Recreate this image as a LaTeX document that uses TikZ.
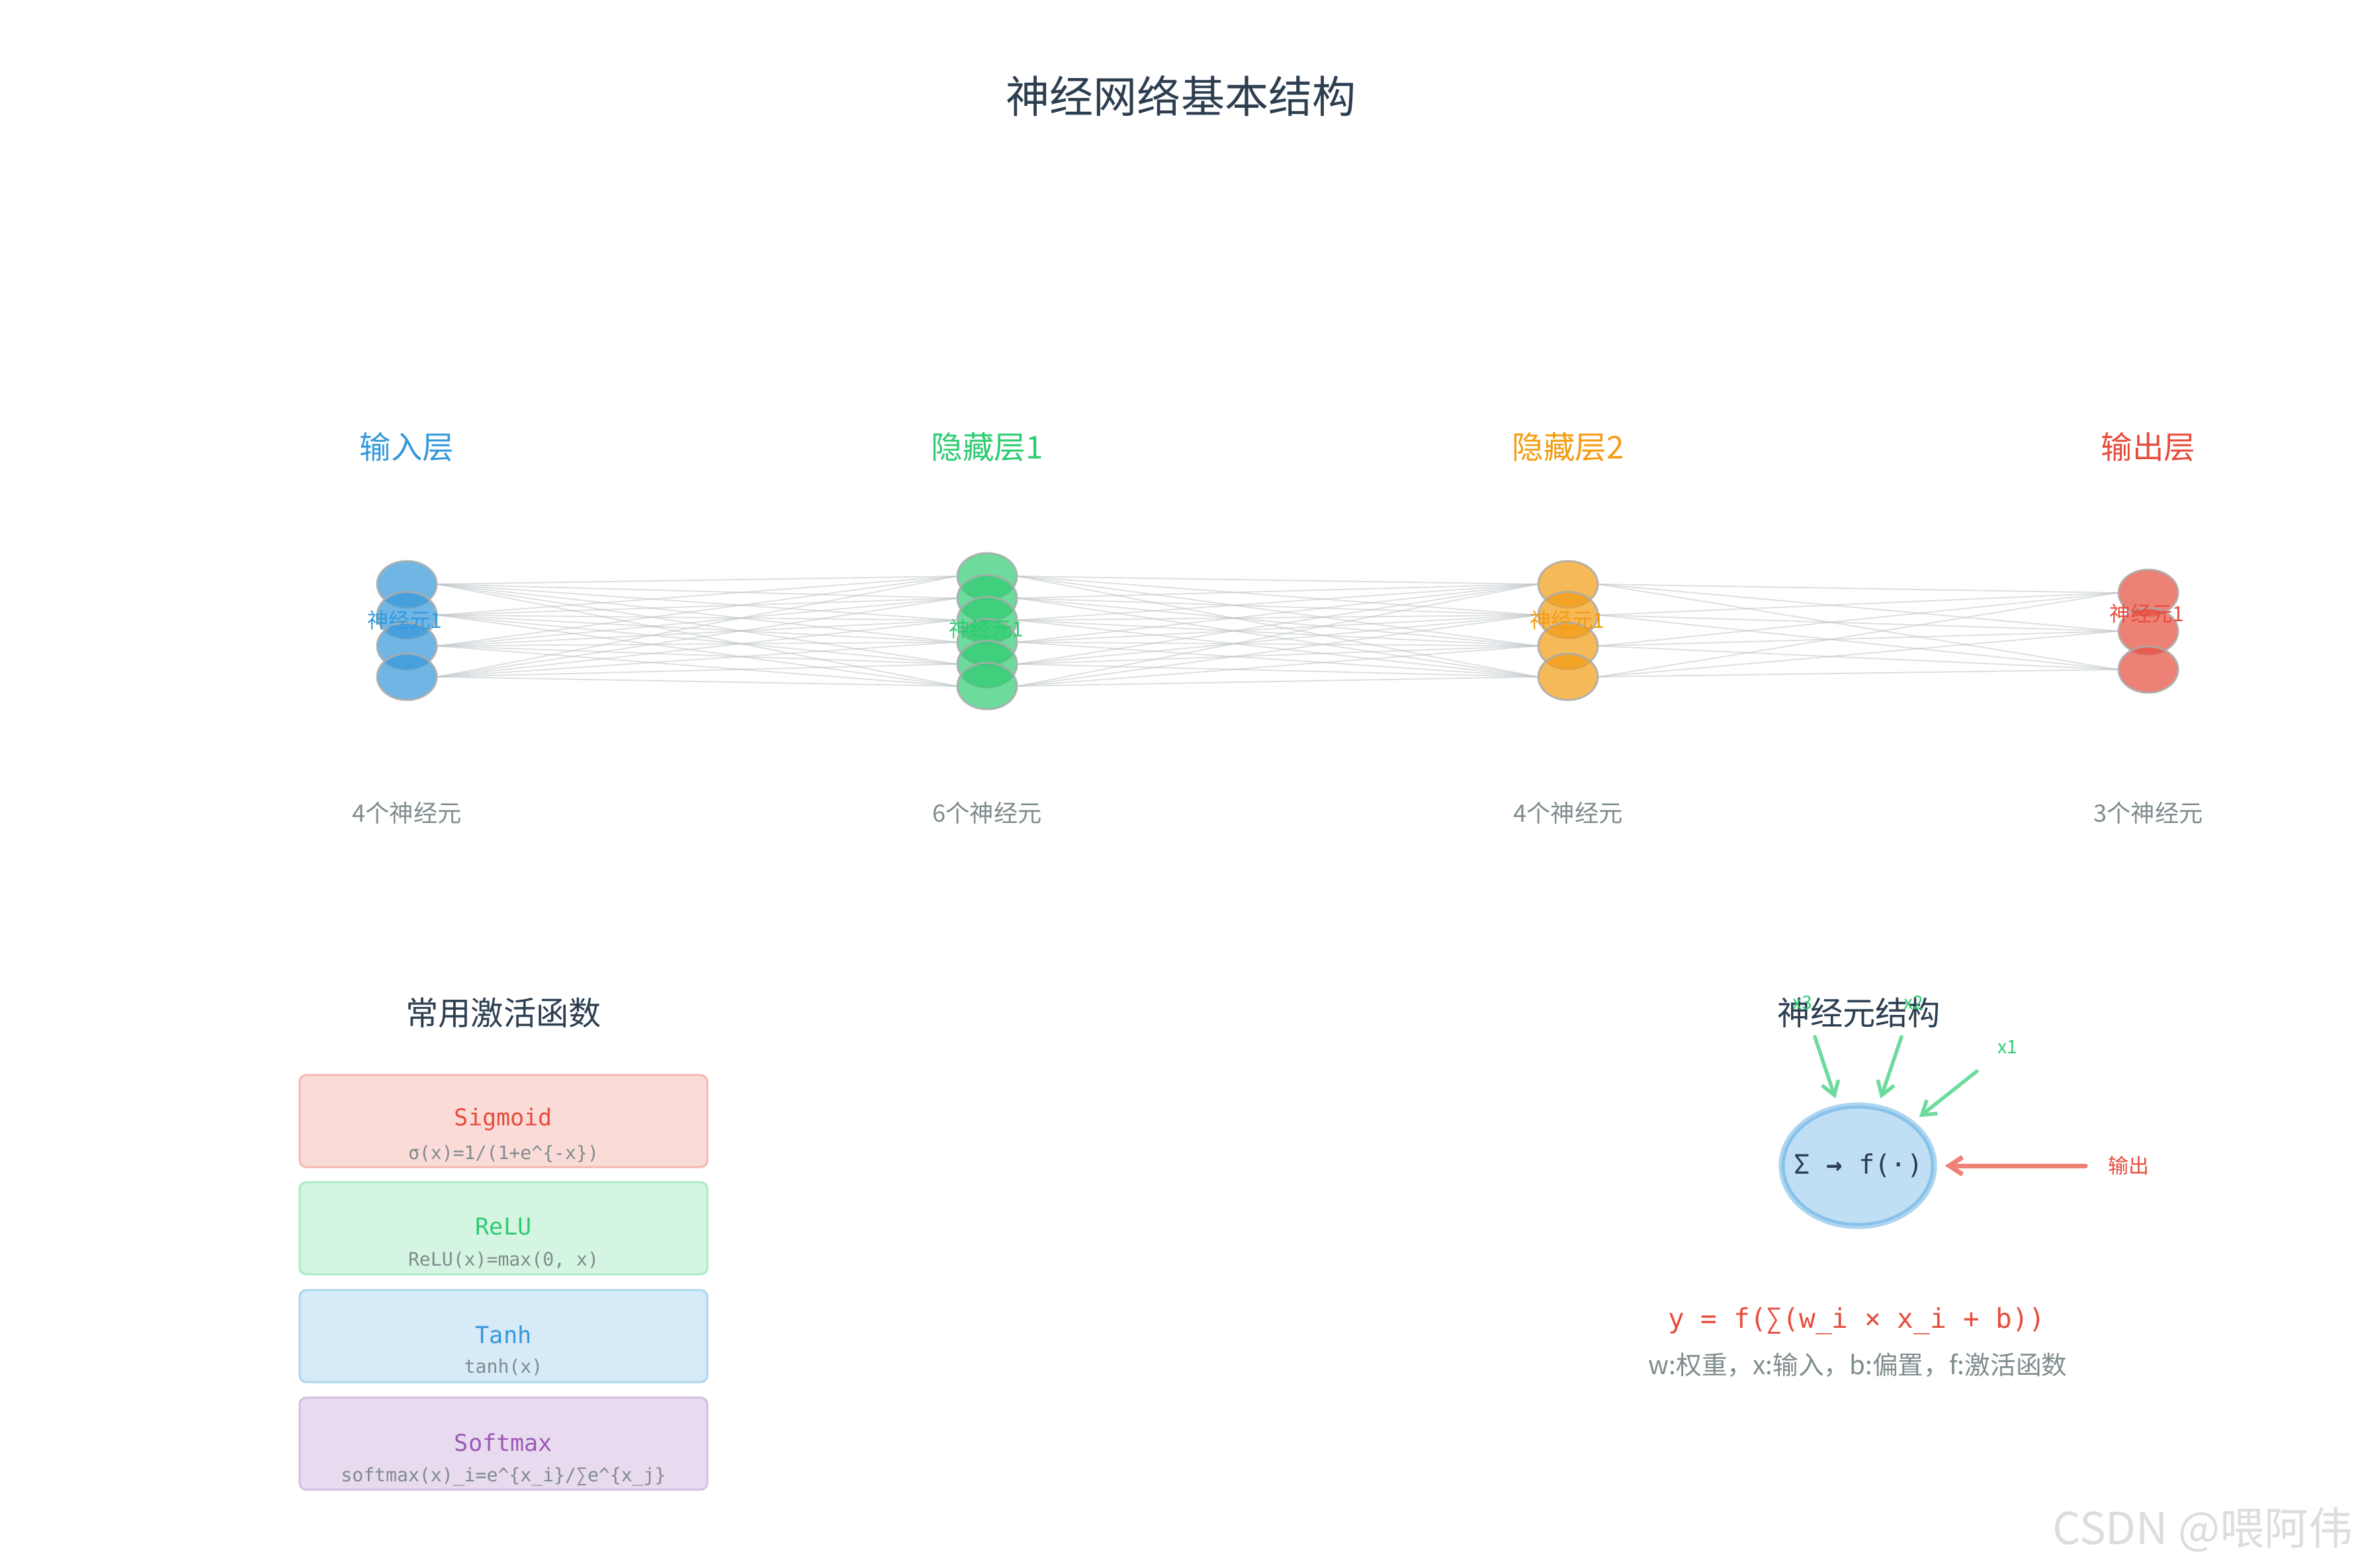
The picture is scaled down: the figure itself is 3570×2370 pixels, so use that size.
\documentclass[tikz,border=0pt]{standalone}
\usepackage{fontspec}
\setmainfont{Noto Sans CJK SC}
\newfontfamily\monof{DejaVu Sans Mono}
\usetikzlibrary{shapes.geometric,arrows.meta,backgrounds}
\definecolor{cdark}{HTML}{2C3E50}
\definecolor{cblue}{HTML}{3498DB}
\definecolor{cgreen}{HTML}{2ECC71}
\definecolor{corange}{HTML}{F39C12}
\definecolor{cred}{HTML}{E74C3C}
\definecolor{cpurple}{HTML}{9B59B6}
\definecolor{cgray}{HTML}{7F8C8D}
\definecolor{cline}{HTML}{BDC3C7}
\definecolor{cedge}{HTML}{ABABAB}
\definecolor{garrow}{HTML}{6DDB9C}
\definecolor{rarrow}{HTML}{EE8276}
\definecolor{wmark}{HTML}{DDDDDD}
\definecolor{sigfill}{HTML}{FADBD8}\definecolor{sigedge}{HTML}{F5B7B1}
\definecolor{relfill}{HTML}{D5F5E3}\definecolor{reledge}{HTML}{ABEBC6}
\definecolor{tanfill}{HTML}{D6EAF8}\definecolor{tanedge}{HTML}{AED6F1}
\definecolor{smxfill}{HTML}{E8DAEF}\definecolor{smxedge}{HTML}{D7BDE2}
\tikzset{
  txt/.style={inner sep=0pt, outer sep=0pt},
  neuron/.style={ellipse, minimum width=0.9cm, minimum height=0.7cm, inner sep=0pt,
    draw=cedge, line width=0.85pt, fill opacity=0.7, draw opacity=0.85},
  conn/.style={draw=cline, line width=0.55pt, draw opacity=0.5},
  funcbox/.style={rounded corners=0.1cm, line width=0.85pt, minimum width=6.16cm,
    minimum height=1.39cm, inner sep=0pt},
  inarrow/.style={draw=garrow, line width=1.55pt, line cap=round,
    -{Straight Barb[length=0.2cm,width=0.26cm]}, shorten >=0.1cm},
  outarrow/.style={draw=rarrow, line width=2pt, line cap=round,
    -{Straight Barb[length=0.2cm,width=0.26cm]}, shorten >=0.12cm},
}
\begin{document}
\begin{tikzpicture}[x=0.01cm, y=-0.01cm]
\useasboundingbox (0,0) rectangle (3570,2370);

% title
\node[txt, text=cdark, font=\fontsize{18.8pt}{22pt}\selectfont] (title) at (1785,145) {神经网络基本结构};

% layer titles
\node[txt, text=cblue,   font=\fontsize{13.5pt}{16pt}\selectfont] (t1) at (615,676)  {输入层};
\node[txt, text=cgreen,  font=\fontsize{13.5pt}{16pt}\selectfont] (t2) at (1492,676) {隐藏层1};
\node[txt, text=corange, font=\fontsize{13.5pt}{16pt}\selectfont] (t3) at (2370,676) {隐藏层2};
\node[txt, text=cred,    font=\fontsize{13.5pt}{16pt}\selectfont] (t4) at (3247,676) {输出层};

% neurons
\foreach \i in {1,...,4} \node[neuron, fill=cblue]   (a\i) at (615,  {883+46.67*(\i-1)}) {};
\foreach \i in {1,...,6} \node[neuron, fill=cgreen]  (b\i) at (1492, {871+33.2*(\i-1)}) {};
\foreach \i in {1,...,4} \node[neuron, fill=corange] (c\i) at (2370, {883+46.67*(\i-1)}) {};
\foreach \i in {1,...,3} \node[neuron, fill=cred]    (d\i) at (3247, {896+58*(\i-1)}) {};

% background and connections
\begin{pgfonlayer}{background}
\fill[white] (0,0) rectangle (3570,2370);
\foreach \i in {1,...,4} \foreach \j in {1,...,6} \draw[conn] (a\i.east) -- (b\j.west);
\foreach \i in {1,...,6} \foreach \j in {1,...,4} \draw[conn] (b\i.east) -- (c\j.west);
\foreach \i in {1,...,4} \foreach \j in {1,...,3} \draw[conn] (c\i.east) -- (d\j.west);
\end{pgfonlayer}

% neuron labels
\node[txt, text=cblue,   font=\fontsize{9pt}{11pt}\selectfont] (la) at (612,937)  {神经元1};
\node[txt, text=cgreen,  font=\fontsize{9pt}{11pt}\selectfont] (lb) at (1491,950) {神经元1};
\node[txt, text=corange, font=\fontsize{9pt}{11pt}\selectfont] (lc) at (2369,937) {神经元1};
\node[txt, text=cred,    font=\fontsize{9pt}{11pt}\selectfont] (ld) at (3245,927) {神经元1};

% counts
\node[txt, text=cgray, font=\fontsize{10.3pt}{12pt}\selectfont] (n1) at (615,1229)  {4个神经元};
\node[txt, text=cgray, font=\fontsize{10.3pt}{12pt}\selectfont] (n2) at (1492,1229) {6个神经元};
\node[txt, text=cgray, font=\fontsize{10.3pt}{12pt}\selectfont] (n3) at (2370,1229) {4个神经元};
\node[txt, text=cgray, font=\fontsize{10.3pt}{12pt}\selectfont] (n4) at (3247,1229) {3个神经元};

% activation functions
\node[txt, text=cdark, font=\fontsize{14pt}{17pt}\selectfont] (acttitle) at (761,1531) {常用激活函数};
\node[funcbox, fill=sigfill, draw=sigedge] (sig) at (761,1694.5) {};
\node[funcbox, fill=relfill, draw=reledge] (rel) at (761,1856.5) {};
\node[funcbox, fill=tanfill, draw=tanedge] (tnh) at (761,2019.5) {};
\node[funcbox, fill=smxfill, draw=smxedge] (smx) at (761,2182) {};
\node[txt, text=cred,    font=\monof\fontsize{10pt}{12pt}\selectfont] (sign) at (761,1692) {Sigmoid};
\node[txt, text=cgray,   font=\monof\fontsize{8pt}{10pt}\selectfont]  (sigf) at (761,1744) {σ(x)=1/(1+e\textasciicircum\{-x\})};
\node[txt, text=cgreen,  font=\monof\fontsize{10pt}{12pt}\selectfont] (reln) at (761,1854) {ReLU};
\node[txt, text=cgray,   font=\monof\fontsize{8pt}{10pt}\selectfont]  (relf) at (761,1905) {ReLU(x)=max(0, x)};
\node[txt, text=cblue,   font=\monof\fontsize{10pt}{12pt}\selectfont] (tnhn) at (761,2017) {Tanh};
\node[txt, text=cgray,   font=\monof\fontsize{8pt}{10pt}\selectfont]  (tnhf) at (761,2067) {tanh(x)};
\node[txt, text=cpurple, font=\monof\fontsize{10pt}{12pt}\selectfont] (smxn) at (761,2180) {Softmax};
\node[txt, text=cgray,   font=\monof\fontsize{8pt}{10pt}\selectfont]  (smxf) at (761,2232) {softmax(x)\_i=e\textasciicircum\{x\_i\}/∑e\textasciicircum\{x\_j\}};

% neuron structure
\node[txt, text=cdark, font=\fontsize{14pt}{17pt}\selectfont] (nstitle) at (2810,1531) {神经元结构};
\node[ellipse, minimum width=2.3cm, minimum height=1.82cm, inner sep=0pt,
      fill=cblue, fill opacity=0.3, draw=cblue, draw opacity=0.4, line width=2.6pt] (core) at (2808,1762) {};
\node[txt, text=cdark, font=\monof\fontsize{11.5pt}{14pt}\selectfont] (coret) at (2809,1762) {Σ {\bfseries →} f(·)};
\coordinate (x3s) at (2743,1567);
\coordinate (x2s) at (2874,1567);
\coordinate (x1s) at (2988,1619);
\coordinate (outs) at (3152,1762);
\draw[inarrow] (x3s) -- (core);
\draw[inarrow] (x2s) -- (core);
\draw[inarrow] (x1s) -- (core);
\draw[outarrow] (outs) -- (core);
\node[txt, text=cgreen, font=\fontsize{8pt}{10pt}\selectfont] (x3l) at (2724,1515) {x3};
\node[txt, text=cgreen, font=\fontsize{8pt}{10pt}\selectfont] (x2l) at (2892,1515) {x2};
\node[txt, text=cgreen, font=\fontsize{8pt}{10pt}\selectfont] (x1l) at (3034,1582) {x1};
\node[txt, text=cred, font=\fontsize{8.8pt}{10pt}\selectfont] (outl) at (3217,1762) {输出};
\node[txt, text=cred, font=\monof\fontsize{11.7pt}{14pt}\selectfont] (formula) at (2806,1997) {y = f(∑(w\_i × x\_i + b))};
\node[txt, text=cgray, font=\fontsize{11pt}{13pt}\selectfont] (desc) at (2808,2063) {w:权重，x:输入，b:偏置，f:激活函数};

% watermark
\node[txt, text=wmark, font=\fontsize{19pt}{22pt}\selectfont] (wm) at (3329,2312) {CSDN @喂阿伟};
\end{tikzpicture}
\end{document}
